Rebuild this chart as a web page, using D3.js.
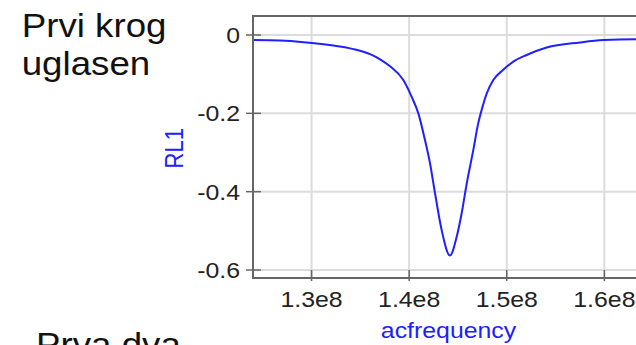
<!DOCTYPE html>
<html><head><meta charset="utf-8">
<script src="https://cdn.jsdelivr.net/npm/d3@7"></script>
<style>html,body{margin:0;padding:0;background:#fff;overflow:hidden}</style>
</head><body>
<svg id="c" width="636" height="345"></svg>
<script>
const freq = [1.240e8,1.2677e8,1.2950e8,1.3223e8,1.3428e8,1.3599e8,1.3702e8,1.3804e8,1.3940e8,1.4026e8,1.4094e8,1.4162e8,1.4214e8,1.4265e8,1.4333e8,1.4418e8,1.4487e8,1.4538e8,1.4590e8,1.4657e8,1.4708e8,1.4743e8,1.4795e8,1.4862e8,1.4964e8,1.5067e8,1.5204e8,1.5409e8,1.5750e8,1.5989e8,1.6324e8,1.6406e8];
const rl1 = [-0.013,-0.014,-0.019,-0.027,-0.036,-0.049,-0.062,-0.080,-0.115,-0.158,-0.200,-0.268,-0.328,-0.404,-0.498,-0.563,-0.515,-0.455,-0.379,-0.294,-0.225,-0.191,-0.149,-0.115,-0.089,-0.068,-0.051,-0.032,-0.019,-0.013,-0.011,-0.011];
const xTicks = [1.3e8,1.4e8,1.5e8,1.6e8];
const xTickLabels = ["1.3e8","1.4e8","1.5e8","1.6e8"];
const yTicks = [0,-0.2,-0.4,-0.6];
const yTickLabels = ["0","-0.2","-0.4","-0.6"];
const xTitle = "acfrequency", yTitle = "RL1";
const notes = [["Prvi krog",21.7,36.7],["uglasen",21.7,75],["Prva dva",36,356]];

const SX = 1.13;
const svg = d3.select("#c");
const L = 253, T = 16, R = 644, B = 278;
const x = d3.scaleLinear().domain([1.24e8,1.64e8]).range([L, L + 4*97.6]);
const y = d3.scaleLinear().domain([0.0485,-0.6204]).range([T,B]);
const font = "'Liberation Sans', Arial, sans-serif";

// grid
svg.append("g").selectAll("line").data(xTicks).join("line")
  .attr("x1",d=>x(d)).attr("x2",d=>x(d)).attr("y1",T).attr("y2",B)
  .attr("stroke","#dcdcdc").attr("stroke-width",2);
svg.append("g").selectAll("line").data(yTicks).join("line")
  .attr("x1",L).attr("x2",R).attr("y1",d=>y(d)).attr("y2",d=>y(d))
  .attr("stroke","#dcdcdc").attr("stroke-width",2);

// line
const data = freq.map((f,i)=>[f,rl1[i]]);
svg.append("path").datum(data)
  .attr("fill","none").attr("stroke","#2020ff").attr("stroke-width",2)
  .attr("d", d3.line().x(d=>x(d[0])).y(d=>y(d[1])).curve(d3.curveMonotoneX));

// frame
const ax = "#666";
svg.append("line").attr("x1",L).attr("x2",L).attr("y1",T).attr("y2",B+1).attr("stroke",ax).attr("stroke-width",2);
svg.append("line").attr("x1",L-1).attr("x2",R).attr("y1",B).attr("y2",B).attr("stroke",ax).attr("stroke-width",2);
svg.append("line").attr("x1",L-1).attr("x2",R).attr("y1",T).attr("y2",T).attr("stroke",ax).attr("stroke-width",2);

// ticks
svg.append("g").selectAll("line").data(yTicks).join("line")
  .attr("x1",L-7).attr("x2",L+8).attr("y1",d=>y(d)).attr("y2",d=>y(d))
  .attr("stroke",ax).attr("stroke-width",1.5);
svg.append("g").selectAll("line").data(xTicks).join("line")
  .attr("x1",d=>x(d)).attr("x2",d=>x(d)).attr("y1",B-8).attr("y2",B+3)
  .attr("stroke",ax).attr("stroke-width",1.5);

// tick labels
svg.append("g").selectAll("text").data(yTicks).join("text")
  .attr("transform",d=>`translate(240,${y(d)}) scale(${SX},1)`)
  .attr("text-anchor","end").attr("dy","0.36em")
  .attr("font-family",font).attr("font-size",22).attr("fill","#222")
  .text((d,i)=>yTickLabels[i]);
svg.append("g").selectAll("text").data(xTicks).join("text")
  .attr("transform",d=>`translate(${x(d)},306.5) scale(${SX},1)`)
  .attr("text-anchor","middle")
  .attr("font-family",font).attr("font-size",22).attr("fill","#222")
  .text((d,i)=>xTickLabels[i]);

// titles
svg.append("text").attr("transform",`translate(448.5,338.3) scale(${SX},1)`)
  .attr("text-anchor","middle").attr("font-family",font).attr("font-size",22).attr("fill","#2020ff").text(xTitle);
svg.append("text").attr("transform",`translate(183.3,148.3) scale(${SX},1) rotate(-90)`)
  .attr("text-anchor","middle").attr("font-family",font).attr("font-size",22).attr("fill","#2020ff").text(yTitle);

// notes
svg.append("g").selectAll("text").data(notes).join("text")
  .attr("transform",d=>`translate(${d[1]},${d[2]}) scale(${SX},1)`)
  .attr("font-family",font).attr("font-size",32.5).attr("fill","#111")
  .text(d=>d[0]);
</script>
</body></html>
